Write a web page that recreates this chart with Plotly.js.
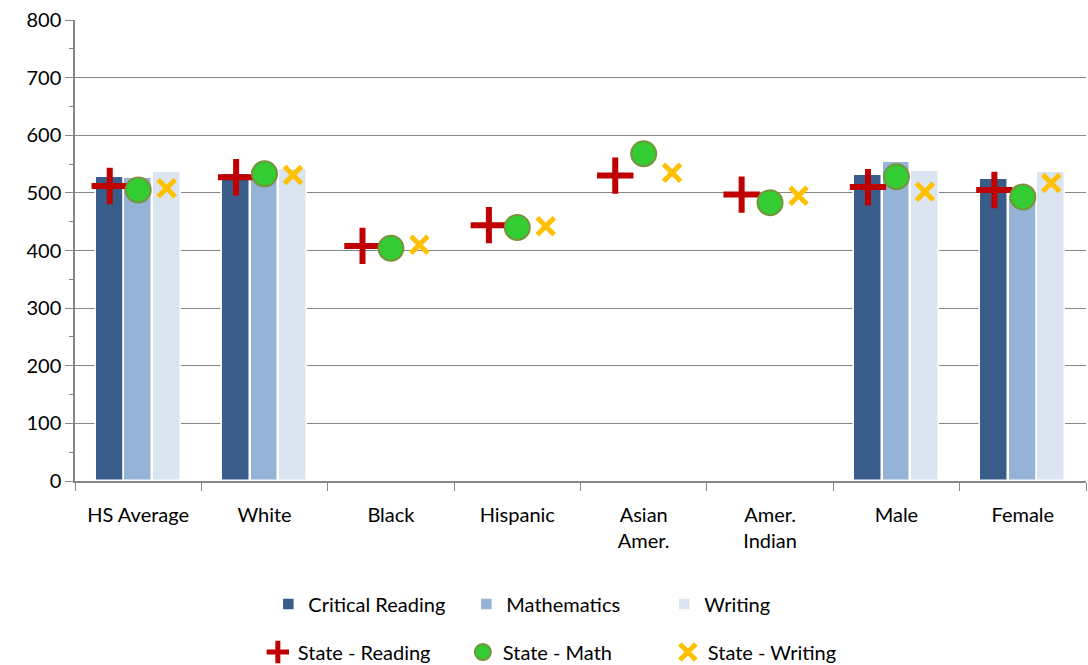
<!DOCTYPE html>
<html>
<head>
<meta charset="utf-8">
<script src="https://cdn.plot.ly/plotly-3.0.1.min.js"></script>
<style>body{margin:0}#plot{width:1088px;height:665px}</style>
</head>
<body>
<div id="plot"></div>
<script>
const categories = ["HS Average", "White", "Black", "Hispanic", "Asian<br>Amer.", "Amer.<br>Indian", "Male", "Female"];
const criticalReading = [527, 533, null, null, null, null, 531, 524];
const mathematics = [526, 540, null, null, null, null, 554, 495];
const writing = [536, 541, null, null, null, null, 538, 536];
const stateReading = [512, 527, 408, 444, 530, 497, 510, 505];
const stateMath = [505, 533, 404, 440, 568, 483, 528, 493];
const stateWriting = [508, 531, 410, 442, 535, 495, 502, 517];

const idx = categories.map((_, i) => i);
const off = 0.225;
const at = d => idx.map(i => i + d);
const font = { family: "Lato, 'Open Sans', sans-serif", size: 20, color: "#000" };

const barTrace = (name, y, d, color) => ({
  type: "bar", name, x: at(d), y, width: 0.22,
  marker: { color, line: { color: "#ffffff", width: 1.5 } },
  legend: "legend"
});
const ptTrace = (name, y, d, marker) => ({
  type: "scatter", mode: "markers", name, x: at(d), y, marker,
  legend: "legend2", cliponaxis: false
});

const traces = [
  barTrace("Critical Reading", criticalReading, -off, "#385d8a"),
  barTrace("Mathematics", mathematics, 0, "#95b3d7"),
  barTrace("Writing", writing, off, "#dbe5f1"),
  ptTrace("State - Reading", stateReading, -off, { symbol: "cross-thin", size: 26, color: "#c00000", line: { color: "#c00000", width: 6 } }),
  ptTrace("State - Math", stateMath, 0, { symbol: "circle", size: 25, color: "#33cc33", line: { color: "#77933c", width: 2 } }),
  ptTrace("State - Writing", stateWriting, off, { symbol: "x-thin", size: 17, color: "#ffc000", line: { color: "#ffc000", width: 5 } })
];
traces.push({ type: "scatter", x: [0], y: [null], xaxis: "x2", showlegend: false, hoverinfo: "skip" });

const bounds = [];
for (let i = -0.5; i <= 7.5; i += 1) bounds.push(i);

const layout = {
  width: 1088, height: 665,
  margin: { l: 75, r: 2, t: 20, b: 184, autoexpand: false },
  paper_bgcolor: "#fff", plot_bgcolor: "#fff",
  font,
  showlegend: true,
  bargap: 0,
  xaxis: {
    range: [-0.5, 7.5], tickvals: bounds, showticklabels: false, automargin: false,
    ticks: "outside", ticklen: 8, tickcolor: "#868686",
    showline: true, linecolor: "#868686", linewidth: 1.5, showgrid: false, zeroline: false
  },
  xaxis2: {
    overlaying: "x", matches: "x", side: "bottom", range: [-0.5, 7.5], automargin: false,
    tickvals: idx, ticktext: categories, ticks: "", showgrid: false, zeroline: false,
    showline: false, tickfont: font, ticklabelstandoff: 20
  },
  yaxis: {
    range: [0, 800], dtick: 100, tickfont: font, automargin: false,
    showgrid: true, gridcolor: "#868686", gridwidth: 1.2,
    showline: true, linecolor: "#868686", linewidth: 1.5,
    ticks: "outside", ticklen: 8, tickcolor: "#868686",
    minor: { dtick: 50, ticks: "outside", ticklen: 4, tickcolor: "#868686", showgrid: false },
    zeroline: false
  },
  legend: {
    orientation: "h", x: 0.485, xanchor: "center", y: -0.267, yanchor: "middle",
    font, entrywidth: 153, itemwidth: 30, tracegroupgap: 0
  },
  legend2: {
    orientation: "h", x: 0.485, xanchor: "center", y: -0.371, yanchor: "middle",
    font, entrywidth: 160, itemwidth: 30
  }
};

Plotly.newPlot(document.querySelector("#plot"), traces, layout, { displayModeBar: false });
</script>
</body>
</html>
